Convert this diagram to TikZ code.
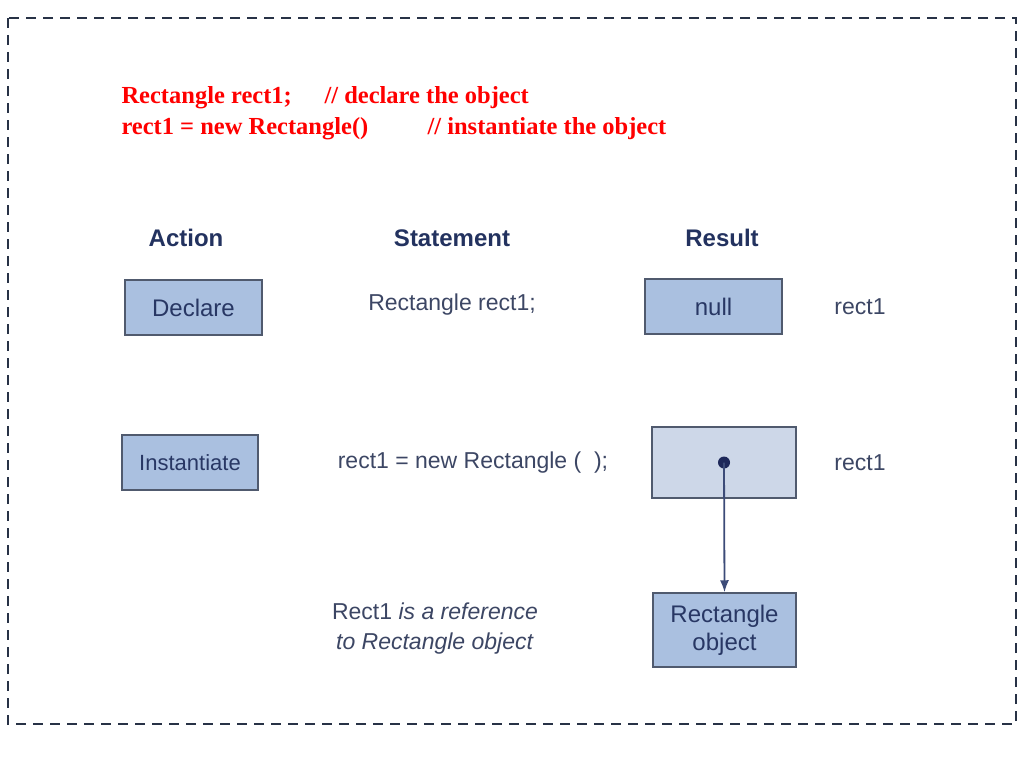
\documentclass[tikz,border=0pt]{standalone}
\usepackage{fontspec}
\setmainfont{Liberation Serif}
\newfontfamily\sans{Liberation Sans}
\usetikzlibrary{arrows.meta}
\begin{document}
\begin{tikzpicture}[x=1pt,y=-1pt,
  red/.style={text=red,font=\fontsize{24.5}{26}\selectfont\bfseries,anchor=west},
  hdr/.style={text={rgb,255:red,35;green,50;blue,95},font=\sans\fontsize{24}{26}\selectfont\bfseries},
  txt/.style={text={rgb,255:red,60;green,70;blue,100},font=\sans\fontsize{23}{30}\selectfont},
  bx/.style={draw={rgb,255:red,80;green,90;blue,110},line width=1.5pt,fill={rgb,255:red,170;green,192;blue,224},
     text={rgb,255:red,40;green,55;blue,100},font=\sans\fontsize{24}{28}\selectfont,align=center,inner sep=0pt}]
\useasboundingbox (0,0) rectangle (1024,768);
\draw[dash pattern=on 10pt off 7pt,line width=2pt,color={rgb,255:red,40;green,50;blue,70}] (8,18) rectangle (1016,724);
\node[red] (l1) at (118,98) {Rectangle rect1;};
\node[red] (c1) at (321,98) {// declare the object};
\node[red] (l2) at (118,129) {rect1 = new Rectangle()};
\node[red] (c2) at (424,129) {// instantiate the object};
\node[hdr] (ha) at (186,238) {Action};
\node[hdr] (hs) at (452,238) {Statement};
\node[hdr] (hr) at (722,238) {Result};
\node[bx,minimum width=137pt,minimum height=55pt] (dec) at (193.5,307.5) {Declare};
\node[bx,minimum width=137pt,minimum height=55pt] (nul) at (713.5,306.5) {null};
\node[bx,minimum width=136pt,minimum height=55pt,font=\sans\fontsize{22}{26}\selectfont] (ins) at (190,462.5) {Instantiate};
\node[bx,fill={rgb,255:red,205;green,215;blue,232},minimum width=144pt,minimum height=71pt] (ref) at (724,462.5) {};
\node[bx,minimum width=143pt,minimum height=74pt] (obj) at (724.5,630) {Rectangle\\object};
\node[txt] (s1) at (452,305) {Rectangle rect1;};
\node[txt] (s2) at (473,463) {rect1 = new Rectangle (\ \ );};
\node[txt] (r1) at (860,307) {rect1};
\node[txt] (r2) at (860,463) {rect1};
\node[txt,align=center] (note) at (435,629) {Rect1 \textit{is a reference}\\\textit{to Rectangle object}};
\fill[color={rgb,255:red,30;green,40;blue,90}] (ref.center) circle (6pt);
\coordinate (dot) at (ref.center);
\draw[-{Latex[length=12pt,width=9pt]},line width=1.8pt,color={rgb,255:red,60;green,75;blue,120}] (dot) -- (obj.north);
\end{tikzpicture}
\end{document}
